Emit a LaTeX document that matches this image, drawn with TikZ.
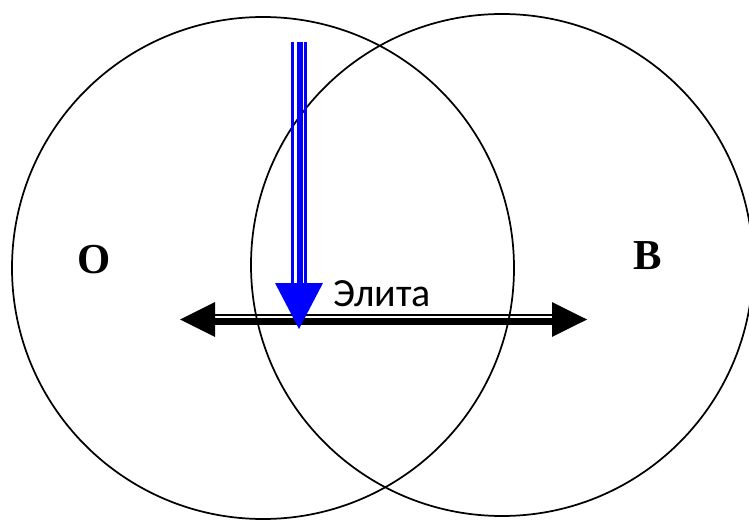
\documentclass[tikz,border=0pt]{standalone}
\usepackage{fontspec}
\setmainfont{Liberation Serif}
\newfontfamily\elfont{Carlito}
\definecolor{arrowblue}{RGB}{0,0,255}
\tikzset{
  ring/.style={draw=black, line width=1.3pt},
  headblack/.style={fill=black, draw=none},
  headblue/.style={fill=arrowblue, draw=none},
  letter/.style={font=\fontsize{32}{32}\selectfont\bfseries, inner sep=0pt, anchor=base},
  lbl/.style={font=\elfont\fontsize{30}{30}\selectfont, inner sep=0pt, anchor=base west}
}
\begin{document}
\begin{tikzpicture}[x=0.75pt,y=-0.75pt]
\useasboundingbox (0,0) rectangle (749,520);
\clip (0,0) rectangle (749,520);
% circles
\coordinate (cl) at (263,268);
\coordinate (cr) at (502,265);
\draw[ring] (cl) circle (188.25pt);
\draw[ring] (cr) circle (188.25pt);
% letters
\node[letter] (O) at (94,273) {О};
\node[letter] (B) at (648,269.5) {В};
% black double-headed arrow
\coordinate (La) at (180,319.5);
\coordinate (Lb) at (215,319.5);
\coordinate (Ra) at (587,319.5);
\coordinate (Rb) at (552,319.5);
\draw[line width=1.7pt] ([yshift=3.6pt]Lb) -- ([yshift=3.6pt]Rb);
\draw[line width=5pt] ([yshift=-1.6pt]Lb) -- ([yshift=-1.6pt]Rb);
\fill[headblack] (La) -- ([yshift=13.1pt]Lb) -- ([yshift=-13.1pt]Lb) -- cycle;
\fill[headblack] (Ra) -- ([yshift=13.1pt]Rb) -- ([yshift=-13.1pt]Rb) -- cycle;
% blue triple arrow
\coordinate (Bt) at (299,42);
\coordinate (Bb) at (299,283);
\coordinate (Btip) at (299,329);
\draw[arrowblue, line width=2.4pt] ([xshift=-4.9pt]Bt) -- ([xshift=-4.9pt]Bb);
\draw[arrowblue, line width=4.5pt] ([xshift=0.5pt]Bt) -- ([xshift=0.5pt]Bb);
\draw[arrowblue, line width=2.4pt] ([xshift=5pt]Bt) -- ([xshift=5pt]Bb);
\fill[headblue] (Btip) -- ([xshift=-18pt]Bb) -- ([xshift=18pt]Bb) -- cycle;
% label
\node[lbl] (E) at (333,306) {Элита};
\end{tikzpicture}
\end{document}
